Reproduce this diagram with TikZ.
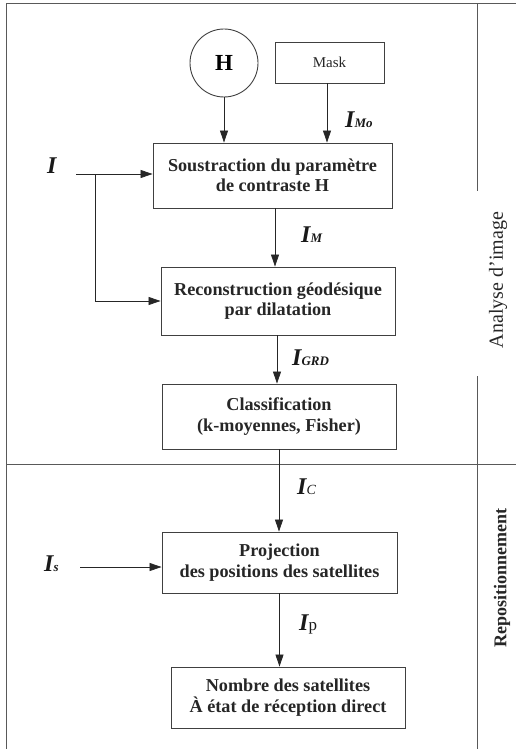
\documentclass[tikz,border=0pt]{standalone}
\usepackage{fontspec}
\setmainfont{Liberation Serif}
\usetikzlibrary{arrows.meta}
\newcommand\sigI[1]{{\fontsize{24}{24}\selectfont\bfseries\itshape I}{\fontsize{13}{13}\selectfont\bfseries\itshape #1}}
\begin{document}
\begin{tikzpicture}[x=1pt,y=-1pt,
  frameline/.style={draw=black!65, line width=1pt},
  boxx/.style={draw=black!75, line width=0.9pt, align=center, text=black!85,
    font=\fontsize{18.2}{20.5}\selectfont\bfseries, inner sep=0pt},
  arr/.style={draw=black!85, line width=0.8pt, -{Triangle[length=12pt,width=8pt]}},
  lbl/.style={inner sep=0pt, anchor=west, text=black!90},
]
\useasboundingbox (0,0) rectangle (516,749);
% frame
\draw[frameline] (516,4) -- (6,4) -- (6,749);
\draw[frameline] (6,464) -- (516,464);
\draw[frameline] (477,4) -- (477,191);
\draw[frameline] (477,376) -- (477,749);
\node[rotate=90, font=\fontsize{20}{20}\selectfont, text=black!85] (lab1) at (498,280) {Analyse d'image};
\node[rotate=90, font=\fontsize{18}{18}\selectfont\bfseries, text=black!85] (lab2) at (502,578) {Repositionnement};
% nodes
\node[draw=black!75, line width=0.9pt, circle, minimum size=68pt, inner sep=0pt,
  font=\fontsize{23}{23}\selectfont\bfseries] (H) at (224,63) {H};
\node[boxx, font=\fontsize{15}{15}\selectfont, minimum width=109pt, minimum height=41pt] (mask) at (329.5,62.5) {Mask};
\node[boxx, minimum width=239pt, minimum height=65pt] (b1) at (272.5,175.5) {Soustraction du paramètre\\de contraste H};
\node[boxx, minimum width=234pt, minimum height=68pt] (b2) at (278,301) {Reconstruction géodésique\\par dilatation};
\node[boxx, minimum width=234pt, minimum height=65pt] (b3) at (279,416.5) {Classification\\(k-moyennes, Fisher)};
\node[boxx, minimum width=235pt, minimum height=61pt] (b4) at (279.5,562.5) {Projection\\des positions des satellites};
\node[boxx, minimum width=234pt, minimum height=61pt] (b5) at (288,697.5) {Nombre des satellites\\À état de réception direct};
% labels
\node[lbl, font=\fontsize{24}{24}\selectfont\bfseries\itshape] (lI) at (47,166) {I};
\node[lbl] (lIs) at (44,564) {\sigI{s}};
\node[lbl] (lIMo) at (345,120) {\sigI{Mo}};
\node[lbl] (lIM) at (301,235) {\sigI{M}};
\node[lbl] (lIGRD) at (292,358) {\sigI{GRD}};
\node[lbl] (lIC) at (297,487) {{\fontsize{24}{24}\selectfont\bfseries\itshape I}{\fontsize{14}{14}\selectfont\itshape C}};
\node[lbl] (lIp) at (299,624) {{\fontsize{24}{24}\selectfont\bfseries\itshape I}{\fontsize{17}{17}\selectfont p}};
% connectors
\coordinate (Iin) at (76,174);
\coordinate (br) at (95,174);
\coordinate (Isin) at (80,567);
\draw[arr] (H.south) -- (H.south |- b1.north);
\draw[arr] ([xshift=-2.5pt]mask.south) -- ([xshift=-2.5pt]mask.south |- b1.north);
\draw[arr] (Iin) -- (Iin -| b1.west);
\draw[arr] (br) |- (b2.west);
\draw[arr] ([xshift=2.5pt]b1.south) -- ([xshift=2.5pt]b1.south |- b2.north);
\draw[arr] ([xshift=-1pt]b2.south) -- ([xshift=-1pt]b2.south |- b3.north);
\draw[arr] (b3.south) -- (b3.south |- b4.north);
\draw[arr] (Isin) -- (Isin -| b4.west);
\draw[arr] (b4.south) -- (b4.south |- b5.north);
\end{tikzpicture}
\end{document}
